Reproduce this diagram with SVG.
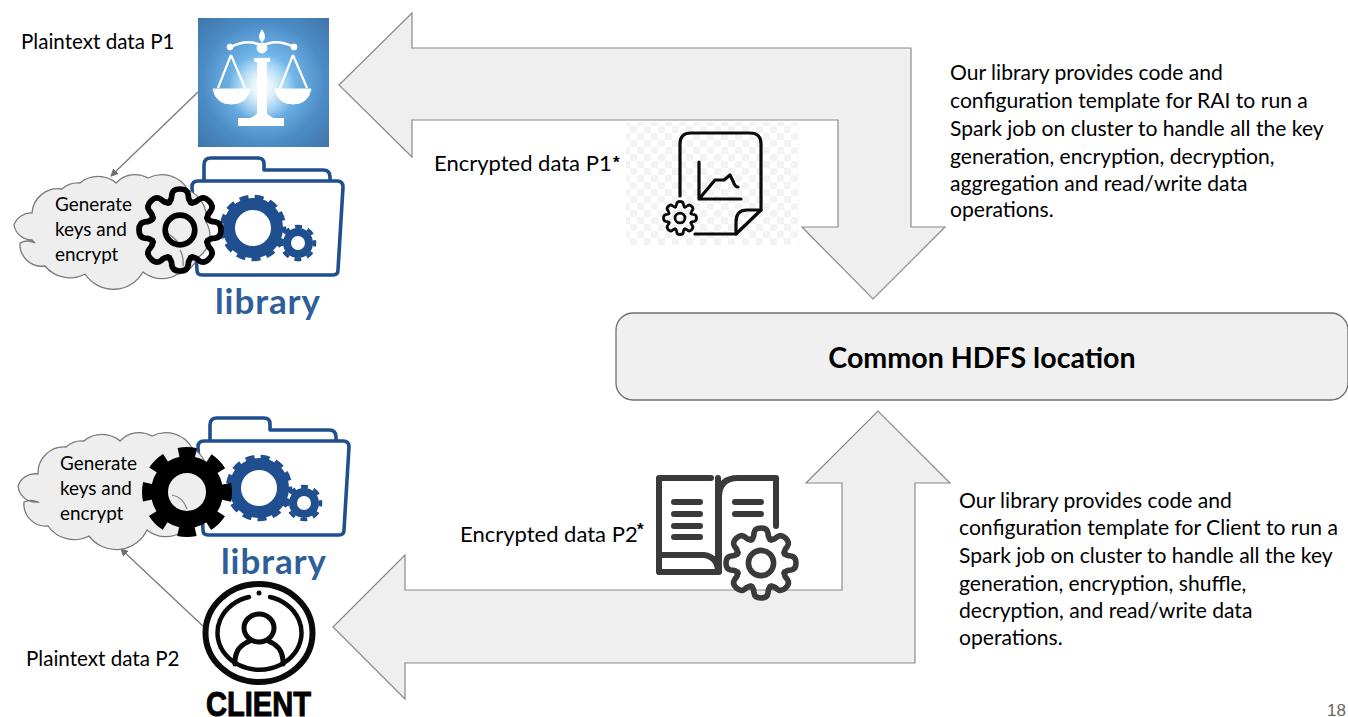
<svg xmlns="http://www.w3.org/2000/svg" xmlns:xlink="http://www.w3.org/1999/xlink" width="1348" height="717" viewBox="0 0 1348 717">
<style>
text{font-family:Lato,"Noto Sans","Liberation Sans",sans-serif;fill:#000;font-size:21.1px}
.pt{font-size:20.6px}
.enc{font-size:22px}
.cl{font-size:18.9px}
.star{font-size:17px;font-weight:700;font-family:"Liberation Sans",sans-serif}
.big{fill:#efefef;stroke:#8a8a8a;stroke-width:1.2}
.thin{stroke:#7a7a7a;stroke-width:1.3;fill:none;marker-end:url(#ah)}
.cloud{fill:#eeeeee;stroke:#7a7a7a;stroke-width:1.3}
.folder{fill:#fff;stroke:#1f4f8f;stroke-width:3.6;stroke-linejoin:round}
.lib{font-weight:700;font-size:35px;fill:#2f5f98}
.ic{fill:none;stroke:#0a0a0a;stroke-linecap:round;stroke-linejoin:round}
.bk{fill:none;stroke:#3a3a3a;stroke-width:6;stroke-linecap:round;stroke-linejoin:round}
</style>
<defs>
<marker id="ah" markerWidth="9" markerHeight="9" refX="7" refY="4" orient="auto" markerUnits="userSpaceOnUse"><path d="M0 0L8 4L0 8z" fill="#6f6f6f"/></marker>
<radialGradient id="glow" cx="0.5" cy="0.5" r="0.72"><stop offset="0" stop-color="#a8dcfa"/><stop offset="0.3" stop-color="#72b8ea"/><stop offset="0.65" stop-color="#4c8cc6"/><stop offset="1" stop-color="#3f74a6"/></radialGradient>
<radialGradient id="spark"><stop offset="0" stop-color="#fff"/><stop offset="0.3" stop-color="#fff" stop-opacity="0.75"/><stop offset="1" stop-color="#fff" stop-opacity="0"/></radialGradient>
<pattern id="chk" width="14" height="14" patternUnits="userSpaceOnUse"><rect width="14" height="14" fill="#fff"/><rect width="7" height="7" fill="#f3f3f3"/><rect x="7" y="7" width="7" height="7" fill="#f3f3f3"/></pattern>
<g id="lobe"><path d="M-.29-.66Q-.2-.72-.2-.86Q-.18-1-.0-1Q.18-1 .2-.86Q.2-.72 .29-.66"/></g>
<g id="wavy">
<use xlink:href="#lobe"/><use xlink:href="#lobe" transform="rotate(45)"/><use xlink:href="#lobe" transform="rotate(90)"/><use xlink:href="#lobe" transform="rotate(135)"/><use xlink:href="#lobe" transform="rotate(180)"/><use xlink:href="#lobe" transform="rotate(225)"/><use xlink:href="#lobe" transform="rotate(270)"/><use xlink:href="#lobe" transform="rotate(315)"/>
</g>
<g id="folderIcon">
<path class="folder" d="M204 181V165Q204 158 211 158H258Q264 158 264 164V170H323Q330 170 330 177V181" fill="none"/>
<path class="folder" d="M198 181H337Q343 181 343 187L338 270Q338 275 333 275H202Q197 275 197 270L192 187Q192 181 198 181Z"/>
<g fill="none" stroke="#1f4f8f">
<circle cx="253" cy="228" r="24" stroke-width="12"/>
<circle cx="253" cy="228" r="31" stroke-width="4.5" stroke-dasharray="9 6.2" stroke-dashoffset="4.5"/>
<circle cx="298" cy="243" r="11" stroke-width="8"/>
<circle cx="298" cy="243" r="16.5" stroke-width="3.5" stroke-dasharray="7 5.96" stroke-dashoffset="3.5"/>
</g>
</g>
</defs>
<rect width="1348" height="717" fill="#fff"/>

<g id="connectors">
<polygon class="big" points="339,85 412,13 412,48 911,48 911,227 945,227 873,299 802,227 838,227 838,120 412,120 412,157"/>
<polygon class="big" points="333,627 405,555 405,590 842,590 842,483 806,483 878,411 950,483 915,483 915,663 405,663 405,699"/>
<line class="thin" x1="198" y1="92" x2="111" y2="176"/>
<line class="thin" x1="204" y1="627" x2="121" y2="549"/>
</g>

<g id="hdfs">
<rect x="616" y="313" width="732" height="87" rx="17" fill="#f0f0f0" stroke="#6f6f6f" stroke-width="1.3"/>
<text x="982" y="368" text-anchor="middle" style="font-size:28.6px;font-weight:700">Common HDFS location</text>
</g>

<g id="rai">
<text class="pt" x="21" y="49">Plaintext data P1</text>
<rect x="198" y="18" width="131" height="129" fill="url(#glow)"/>
<circle cx="262" cy="88" r="34" fill="url(#spark)"/>
<g fill="#fff" stroke="#fff">
<path d="M262 30Q257 37 262 42Q267 37 262 30Z"/>
<path d="M231 47Q248 38 262 46Q276 38 294 47" fill="none" stroke-width="2.5"/>
<circle cx="230" cy="47" r="3"/><circle cx="294" cy="47" r="3"/><circle cx="262" cy="48" r="5"/>
<path d="M231 55L218 88M231 55L245 88M293 55L280 88M293 55L307 88" fill="none" stroke-width="2.2"/>
<path d="M213 89H250Q247 104 231 104Q216 104 213 89Z"/>
<path d="M275 89H311Q308 104 293 104Q278 104 275 89Z"/>
<rect x="257" y="60" width="10" height="54" stroke="none"/>
<rect x="254" y="58" width="16" height="4" stroke="none"/>
<path d="M262 108Q268 116 274 118H284V126H238V118H250Q256 116 262 108Z" stroke="none"/>
</g>
</g>

<g id="library1">
<use xlink:href="#folderIcon"/>
<text class="lib" x="215" y="314" textLength="105" lengthAdjust="spacing">library</text>
</g>

<g id="cloud1">
<path class="cloud" d="M32 213A26 26 0 0 1 62 189A24 24 0 0 1 80 183A28 28 0 0 1 116 183A26 26 0 0 1 148 178A30 30 0 0 1 188 190A30 30 0 0 1 206 222A26 26 0 0 1 197 258A24 24 0 0 1 178 274A30 30 0 0 1 143 272A34 34 0 0 1 85 274A32 32 0 0 1 45 266A22 22 0 0 1 20 243A16 16 0 0 1 35 243A14 14 0 0 1 32 240A18 18 0 0 1 14 225A18 18 0 0 1 32 213Z"/>
<text class="cl" x="55" y="211">Generate</text>
<text class="cl" x="55" y="236">keys and</text>
<text class="cl" x="55" y="261">encrypt</text>
<path d="M167 233Q176 239 180 245M183 266Q184 257 180 250" fill="none" stroke="#7a7a7a" stroke-width="1.2"/>
<g transform="translate(180,230) scale(41)" fill="none" stroke="#000" stroke-width="0.14" stroke-linecap="round" stroke-linejoin="round"><use xlink:href="#wavy"/><circle r="0.36" fill="none"/></g>
</g>

<g id="enc1">
<text class="enc" x="434" y="171">Encrypted data P1</text>
<text class="star" x="613" y="168">*</text>
<rect x="626" y="122" width="173" height="123" fill="url(#chk)"/>
<g class="ic" stroke-width="3.2">
<path d="M680 196V144Q680 133 691 133H750Q761 133 761 144V210L736 234H695"/>
<path d="M761 210H747Q736 210 736 222V234"/>
<path d="M699 162V199H741M699 199L715 180L724 180L730 175L733 181Q735 187 738 187"/>
</g>
<g transform="translate(680,218) scale(16.5)" fill="none" stroke="#0a0a0a" stroke-width="0.17" stroke-linecap="round" stroke-linejoin="round"><use xlink:href="#wavy"/><circle r="0.3"/></g>
</g>

<g id="note1">
<text x="950" y="80">Our library provides code and</text>
<text x="950" y="108">configuration template for RAI to run a</text>
<text x="950" y="136">Spark job on cluster to handle all the key</text>
<text x="950" y="164">generation, encryption, decryption,</text>
<text x="950" y="191">aggregation and read/write data</text>
<text x="950" y="217">operations.</text>
</g>

<g id="library2">
<use xlink:href="#folderIcon" transform="translate(6,260)"/>
<text class="lib" x="221" y="574" textLength="105" lengthAdjust="spacing">library</text>
</g>

<g id="cloud2">
<path class="cloud" d="M38 474A26 26 0 0 1 66 447A24 24 0 0 1 84 441A28 28 0 0 1 120 441A26 26 0 0 1 152 436A30 30 0 0 1 192 448A30 30 0 0 1 207 480A26 26 0 0 1 201 516A24 24 0 0 1 182 532A30 30 0 0 1 147 530A34 34 0 0 1 89 536A32 32 0 0 1 48 526A22 22 0 0 1 24 502A16 16 0 0 1 38 502A18 18 0 0 1 18 486A18 18 0 0 1 38 474Z"/>
<text class="cl" x="60" y="470">Generate</text>
<text class="cl" x="60" y="495">keys and</text>
<text class="cl" x="60" y="520">encrypt</text>
<path d="M172 495Q183 497 187 509" fill="none" stroke="#7a7a7a" stroke-width="1.2"/>
<g fill="none" stroke="#000">
<circle cx="187" cy="492" r="27.5" stroke-width="17"/>
<circle cx="187" cy="492" r="39" stroke-width="12" stroke-dasharray="17 13.63" stroke-dashoffset="8.5"/>
</g>
</g>

<g id="enc2">
<text class="enc" x="460" y="542">Encrypted data P2</text>
<text class="star" x="637" y="535">*</text>
<path class="bk" d="M711 478H659V572H718V478M719 572V497Q719 478 738 478H776V526M659 555H704Q718 557 718 572"/>
<path class="bk" d="M674 502H700M674 514H700M674 526H700M674 537H700M735 502H761M735 514H761"/>
<g transform="translate(761,563) scale(35)" fill="none" stroke="#3a3a3a" stroke-width="0.16" stroke-linecap="round" stroke-linejoin="round"><use xlink:href="#wavy"/><circle r="0.36"/></g>
</g>

<g id="client">
<text class="pt" x="26" y="666">Plaintext data P2</text>
<ellipse cx="259" cy="633" rx="53.5" ry="49" fill="#fff" stroke="#0a0a0a" stroke-width="6"/>
<path d="M249 597A42 37 0 1 0 270 597" fill="none" stroke="#0a0a0a" stroke-width="4.5" stroke-linecap="round"/>
<circle cx="259" cy="593" r="2.5" fill="#0a0a0a"/>
<ellipse cx="259" cy="628" rx="15" ry="14" fill="none" stroke="#0a0a0a" stroke-width="5"/>
<path d="M235 664V660Q236 646 250 641M283 664V660Q282 646 268 641" fill="none" stroke="#0a0a0a" stroke-width="5" stroke-linecap="round"/>
<text x="206" y="716" textLength="105" lengthAdjust="spacingAndGlyphs" style="font-family:'Liberation Sans',sans-serif;font-size:35px;font-weight:700;stroke:#000;stroke-width:1">CLIENT</text>
</g>

<g id="note2">
<text x="959" y="508">Our library provides code and</text>
<text x="959" y="535">configuration template for Client to run a</text>
<text x="959" y="563">Spark job on cluster to handle all the key</text>
<text x="959" y="591">generation, encryption, shuffle,</text>
<text x="959" y="618">decryption, and read/write data</text>
<text x="959" y="645">operations.</text>
</g>

<g id="page"><text x="1327" y="716" style="font-family:'Liberation Sans',sans-serif;font-size:17px;fill:#666">18</text></g>
</svg>
